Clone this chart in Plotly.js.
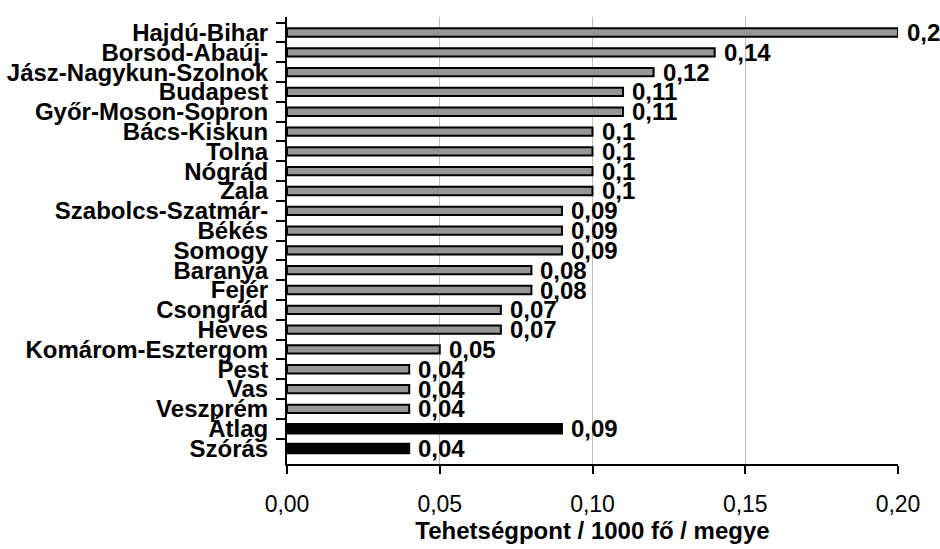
<!DOCTYPE html>
<html>
<head>
<meta charset="utf-8">
<script src="https://cdn.plot.ly/plotly-3.0.1.min.js"></script>
<style>
  html, body { margin: 0; padding: 0; background: #ffffff; }
  #chart { width: 940px; height: 549px; }
</style>
</head>
<body>
<div id="chart"></div>
<script>
// Talent points per 1000 inhabitants, by county (top to bottom)
const counties = [
  "Hajdú-Bihar", "Borsod-Abaúj-", "Jász-Nagykun-Szolnok", "Budapest",
  "Győr-Moson-Sopron", "Bács-Kiskun", "Tolna", "Nógrád", "Zala",
  "Szabolcs-Szatmár-", "Békés", "Somogy", "Baranya", "Fejér",
  "Csongrád", "Heves", "Komárom-Esztergom", "Pest", "Vas", "Veszprém",
  "Átlag", "Szórás"
];
const values = [
  0.2, 0.14, 0.12, 0.11,
  0.11, 0.1, 0.1, 0.1, 0.1,
  0.09, 0.09, 0.09, 0.08, 0.08,
  0.07, 0.07, 0.05, 0.04, 0.04, 0.04,
  0.09, 0.04
];
// summary rows (mean, standard deviation) drawn in black
const summaryRows = ["Átlag", "Szórás"];
const xTicks = [0, 0.05, 0.1, 0.15, 0.2];

const FONT = "Liberation Sans, Arial, sans-serif";
const isSummary = counties.map(c => summaryRows.includes(c));
const labelText = values.map(v => String(v).replace(".", ","));

const trace = {
  type: "bar",
  orientation: "h",
  x: values,
  y: counties,
  width: isSummary.map(s => s ? 0.48 : 0.42),
  marker: {
    color: isSummary.map(s => s ? "#000000" : "#969696"),
    line: { color: "#000000", width: 2 }
  },
  hoverinfo: "none"
};

const annotations = values.map((v, i) => ({
  x: v,
  y: counties[i],
  xref: "x",
  yref: "y",
  text: labelText[i],
  showarrow: false,
  xanchor: "left",
  yanchor: "middle",
  xshift: 7,
  font: { family: FONT, size: 24, weight: "bold", color: "#000000" }
}));

const layout = {
  width: 940,
  height: 549,
  margin: { l: 287, r: 42, t: 17, b: 85 },
  paper_bgcolor: "#ffffff",
  plot_bgcolor: "#ffffff",
  separators: ",.",
  showlegend: false,
  xaxis: {
    range: [0, 0.2],
    tickmode: "array",
    tickvals: xTicks,
    tickformat: ".2f",
    showgrid: true,
    gridcolor: "#c0c0c0",
    gridwidth: 1,
    zeroline: false,
    showline: true,
    linecolor: "#000000",
    linewidth: 2,
    ticks: "outside",
    ticklen: 8,
    tickwidth: 2,
    tickcolor: "#000000",
    ticklabelstandoff: 10,
    tickfont: { family: FONT, size: 23, color: "#000000" },
    title: {
      text: "Tehetségpont / 1000 fő / megye",
      font: { family: FONT, size: 24, weight: "bold", color: "#000000" },
      standoff: 6
    },
    fixedrange: true
  },
  yaxis: {
    type: "category",
    categoryorder: "array",
    categoryarray: counties,
    autorange: "reversed",
    tickmode: "linear",
    tick0: 0,
    dtick: 1,
    tickson: "boundaries",
    ticks: "outside",
    ticklen: 9,
    tickwidth: 2,
    tickcolor: "#000000",
    ticklabelstandoff: 12,
    showline: true,
    linecolor: "#000000",
    linewidth: 2,
    showgrid: false,
    zeroline: false,
    tickfont: { family: FONT, size: 24, weight: "bold", color: "#000000" },
    fixedrange: true
  },
  annotations: annotations
};

Plotly.newPlot("chart", [trace], layout, { displayModeBar: false, staticPlot: true });
</script>
</body>
</html>
